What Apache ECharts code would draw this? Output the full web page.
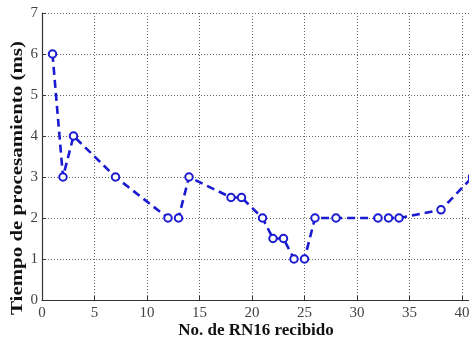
<!DOCTYPE html>
<html>
<head>
<meta charset="utf-8">
<script src="https://cdn.jsdelivr.net/npm/echarts@6/dist/echarts.min.js"></script>
<style>
  html, body { margin: 0; padding: 0; background: #fff; }
  #chart { width: 469px; height: 343px; }
</style>
</head>
<body>
<div id="chart"></div>
<script>
// RN16 index received and processing time (ms)
const rn16Index = [1, 2, 3, 7, 12, 13, 14, 18, 19, 21, 22, 23, 24, 25, 26, 28, 32, 33, 34, 38, 41];
const procTimeMs = [6, 3, 4, 3, 2, 2, 3, 2.5, 2.5, 2, 1.5, 1.5, 1, 1, 2, 2, 2, 2, 2, 2.2, 3];

const xTitle = 'No. de RN16 recibido';
const yTitle = 'Tiempo de procesamiento (ms)';

const serif = '"Liberation Serif", "DejaVu Serif", serif';
const blue = '#1a1ad0';

const chart = echarts.init(document.getElementById('chart'));

const gridLine = { show: true, lineStyle: { color: '#666', width: 1, type: [1, 2] } };

// the plot area runs past the right edge of the canvas (x axis to 45)
chart.setOption({
  animation: false,
  backgroundColor: '#fff',
  grid: {
    left: 42, right: -45.5, top: 13, bottom: 43,
    containLabel: false,
    outerBoundsMode: 'none'
  },
  xAxis: {
    type: 'value',
    min: 0, max: 45, interval: 5,
    axisLine: { show: true, onZero: false, lineStyle: { color: '#333', width: 1.2 } },
    axisTick: { show: true, inside: true, length: 4, lineStyle: { color: '#333' } },
    axisLabel: { color: '#444', fontFamily: serif, fontSize: 15, margin: 6 },
    splitLine: gridLine
  },
  yAxis: {
    type: 'value',
    min: 0, max: 7, interval: 1,
    axisLine: { show: true, lineStyle: { color: '#333', width: 1.2 } },
    axisTick: { show: true, inside: true, length: 4, lineStyle: { color: '#333' } },
    axisLabel: { color: '#444', fontFamily: serif, fontSize: 15, margin: 4 },
    splitLine: gridLine
  },
  series: [{
    type: 'line',
    data: rn16Index.map((x, i) => [x, procTimeMs[i]]),
    clip: false,
    symbol: 'emptyCircle',
    symbolSize: 7.5,
    itemStyle: { color: blue, borderColor: blue, borderWidth: 1.8 },
    lineStyle: { color: blue, width: 2.6, type: [8, 5] }
  }],
  graphic: [
    {
      type: 'text',
      x: 256,
      y: 331,
      style: {
        text: xTitle,
        font: 'bold 17px ' + serif,
        fill: '#111',
        align: 'center',
        verticalAlign: 'middle'
      }
    },
    {
      type: 'text',
      x: 18,
      y: 178,
      rotation: Math.PI / 2,
      scaleX: 1.23,
      style: {
        text: yTitle,
        font: 'bold 17px ' + serif,
        fill: '#111',
        align: 'center',
        verticalAlign: 'middle'
      }
    }
  ]
});
</script>
</body>
</html>
